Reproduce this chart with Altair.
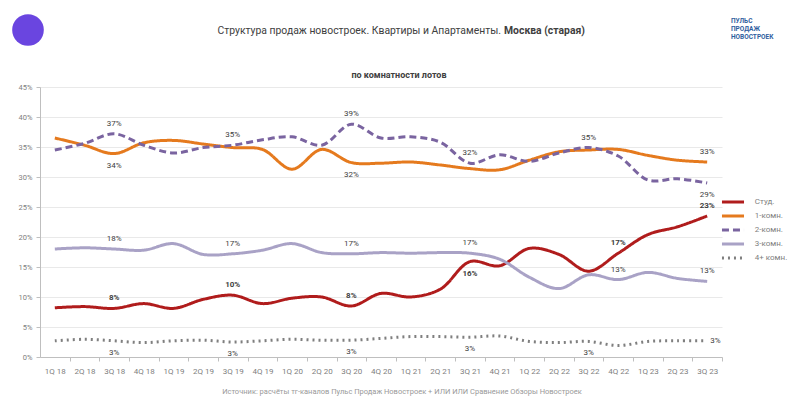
import altair as alt
import pandas as pd

quarters = ["1Q 18", "2Q 18", "3Q 18", "4Q 18", "1Q 19", "2Q 19", "3Q 19", "4Q 19",
            "1Q 20", "2Q 20", "3Q 20", "4Q 20", "1Q 21", "2Q 21", "3Q 21", "4Q 21",
            "1Q 22", "2Q 22", "3Q 22", "4Q 22", "1Q 23", "2Q 23", "3Q 23"]

series_names = ["Студ.", "1-комн.", "2-комн.", "3-комн.", "4+ комн."]
series_colors = ["#B01C1C", "#E57A1E", "#7A64A0", "#A9A2C6", "#7F7F7F"]

studio = [8.2, 8.4, 8.1, 8.9, 8.1, 9.6, 10.3, 8.9, 9.8, 10.0, 8.5, 10.6,
          10.0, 11.3, 15.9, 15.2, 18.1, 17.1, 14.3, 17.3, 20.4, 21.7, 23.5]
one_room = [36.5, 35.3, 33.9, 35.7, 36.1, 35.5, 34.9, 34.6, 31.3, 34.6, 32.4, 32.3,
            32.5, 32.0, 31.4, 31.2, 32.8, 34.2, 34.5, 34.6, 33.6, 32.8, 32.5]
two_room = [34.5, 35.6, 37.2, 35.3, 34.0, 34.9, 35.3, 36.2, 36.7, 35.3, 38.8, 36.5,
            36.7, 35.8, 32.3, 33.7, 32.6, 34.0, 34.9, 33.5, 29.5, 29.7, 29.0]
three_room = [18.0, 18.2, 18.0, 17.8, 18.9, 17.1, 17.2, 17.8, 18.9, 17.4, 17.2, 17.4,
              17.3, 17.4, 17.3, 16.3, 13.3, 11.4, 13.7, 12.9, 14.1, 13.1, 12.6]
four_plus = [2.7, 2.95, 2.7, 2.4, 2.7, 2.8, 2.5, 2.7, 2.95, 2.8, 2.8, 3.1,
             3.4, 3.4, 3.3, 3.5, 2.6, 2.4, 2.6, 1.9, 2.6, 2.7, 2.7]

y_ticks = [0, 5, 10, 15, 20, 25, 30, 35, 40, 45]

# data labels: (series, quarter, text)
labels_above = [
    ("2-комн.", "3Q 18", "37%"), ("2-комн.", "3Q 19", "35%"), ("2-комн.", "3Q 20", "39%"),
    ("2-комн.", "3Q 21", "32%"), ("2-комн.", "3Q 22", "35%"),
    ("1-комн.", "3Q 23", "33%"),
    ("3-комн.", "3Q 18", "18%"), ("3-комн.", "3Q 19", "17%"), ("3-комн.", "3Q 20", "17%"),
    ("3-комн.", "3Q 21", "17%"), ("3-комн.", "4Q 22", "13%"), ("3-комн.", "3Q 23", "13%"),
]
labels_below = [
    ("1-комн.", "3Q 18", "34%"), ("1-комн.", "3Q 20", "32%"), ("2-комн.", "3Q 23", "29%"),
    ("4+ комн.", "3Q 18", "3%"), ("4+ комн.", "3Q 19", "3%"), ("4+ комн.", "3Q 20", "3%"),
    ("4+ комн.", "3Q 21", "3%"), ("4+ комн.", "3Q 22", "3%"),
]
labels_bold_above = [
    ("Студ.", "3Q 18", "8%"), ("Студ.", "3Q 19", "10%"), ("Студ.", "3Q 20", "8%"),
    ("Студ.", "4Q 22", "17%"), ("Студ.", "3Q 23", "23%"),
]
labels_bold_below = [("Студ.", "3Q 21", "16%")]
labels_right = [("4+ комн.", "3Q 23", "3%")]

title_main = "Структура продаж новостроек. Квартиры и Апартаменты."
title_bold = "Москва (старая)"
subtitle = "по комнатности лотов"
source = "Источник: расчёты тг-каналов Пульс Продаж Новостроек + ИЛИ ИЛИ Сравнение Обзоры Новостроек"
logo_lines = ["ПУЛЬС", "ПРОДАЖ", "НОВОСТРОЕК"]

series_values = dict(zip(series_names, [studio, one_room, two_room, three_room, four_plus]))

rows = []
for name in series_names:
    for q, v in zip(quarters, series_values[name]):
        rows.append({"quarter": q, "value": v, "series": name})
df = pd.DataFrame(rows)


def label_df(items):
    out = []
    for s, q, t in items:
        out.append({"quarter": q, "series": s, "text": t,
                    "value": series_values[s][quarters.index(q)]})
    return pd.DataFrame(out)


x_enc = alt.X("quarter:O", sort=quarters, scale=alt.Scale(domain=quarters),
              axis=alt.Axis(title=None, labelAngle=0, labelFontSize=8, labelColor="#808080",
                            domainColor="#BFBFBF", tickColor="#BFBFBF", tickSize=4,
                            tickOffset=14.83, labelOffset=-14.83, labelPadding=6, grid=False))
y_enc = alt.Y("value:Q", scale=alt.Scale(domain=[0, 45], nice=False),
              axis=alt.Axis(title=None, values=y_ticks, labelExpr="datum.value + '%'",
                            labelFontSize=7.5, labelColor="#808080", domainColor="#BFBFBF",
                            tickColor="#BFBFBF", tickSize=4, gridColor="#E9E9E9",
                            labelPadding=4, labelOverlap=False))

legend = alt.Legend(title=None, orient="none", legendX=685, legendY=107,
                    labelFontSize=8, labelColor="#808080", symbolType="M-1.8,0H1.8",
                    symbolStrokeWidth=3, symbolSize=150, rowPadding=0, labelOffset=13.8)

lines = alt.Chart(df).mark_line(interpolate="catmull-rom", strokeWidth=3).encode(
    x=x_enc,
    y=y_enc,
    color=alt.Color("series:N", scale=alt.Scale(domain=series_names, range=series_colors),
                    legend=legend),
    strokeDash=alt.StrokeDash("series:N", scale=alt.Scale(
        domain=series_names, range=[[1, 0], [1, 0], [7, 4], [1, 0], [2, 4]]), legend=legend),
)


def text_layer(items, dy, bold=False, align="center", dx=0):
    return alt.Chart(label_df(items)).mark_text(
        dy=dy, dx=dx, align=align, fontSize=8, color="#404040",
        fontWeight="bold" if bold else "normal").encode(
        x=x_enc, y=y_enc, text="text:N")


t_above = text_layer(labels_above, -10)
t_below = text_layer(labels_below, 12)
t_bold_above = text_layer(labels_bold_above, -10, bold=True)
t_bold_below = text_layer(labels_bold_below, 12, bold=True)
t_right = text_layer(labels_right, 0, align="left", dx=3)


def free_text(txt, x, y, size, weight="normal", align="center", color="#404040"):
    return alt.Chart(pd.DataFrame({"t": [txt]})).mark_text(
        fontSize=size, fontWeight=weight, align=align, color=color, baseline="middle").encode(
        x=alt.value(x), y=alt.value(y), text="t:N")


title1 = free_text(title_main, 461, -56, 10.4, align="right")
title2 = free_text(title_bold, 464, -56, 10.4, weight="bold", align="left")
sub = free_text(subtitle, 359, -12, 9, weight="bold")
src = free_text(source, 362, 305, 7.5, color="#999999")
logo_t = [free_text(t, 691, -66 + 8 * i, 6.5, weight="bold", align="left", color="#2F5E9E")
          for i, t in enumerate(logo_lines)]

logo_circle = alt.Chart(pd.DataFrame({"t": [1]})).mark_circle(
    size=1000, opacity=1, color="#6A45E0").encode(x=alt.value(-12), y=alt.value(-57))

chart = alt.layer(lines, t_above, t_below, t_bold_above, t_bold_below, t_right,
                  title1, title2, sub, src, logo_circle, *logo_t).properties(
    width=682, height=270,
    autosize=alt.AutoSizeParams(type="none"),
    padding={"left": 32, "top": 79, "right": 70, "bottom": 49},
).configure(font="Roboto").configure_view(stroke=None)

chart.save("out.html", embed_options={"renderer": "svg", "actions": False})
